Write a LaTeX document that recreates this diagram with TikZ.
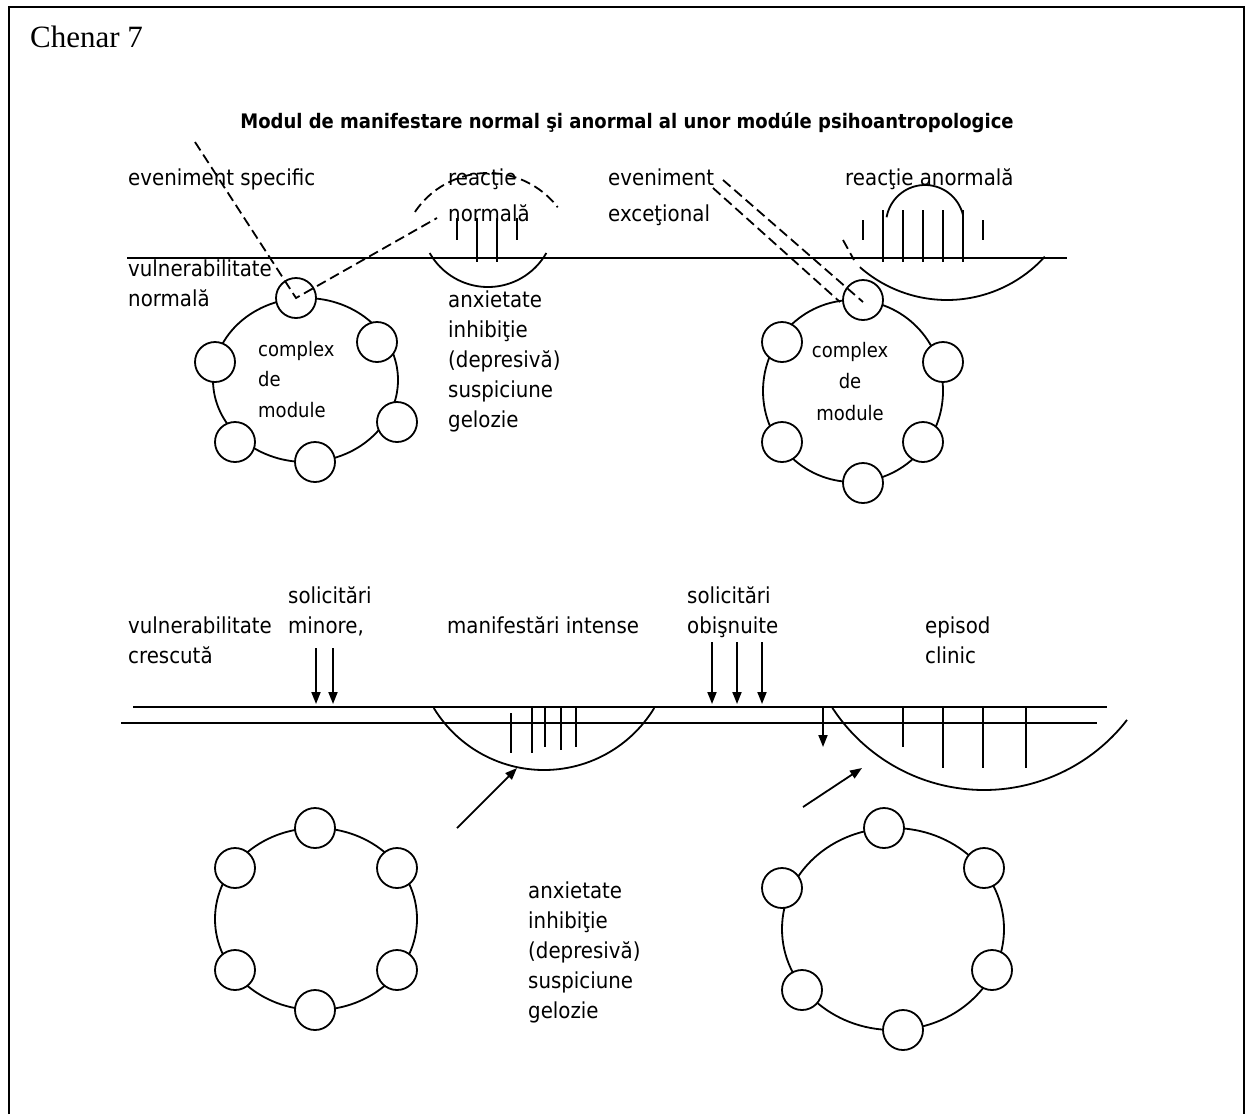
\documentclass[tikz,border=0pt]{standalone}
\usepackage{fontspec}
\setmainfont{DejaVu Sans}[FakeStretch=0.9]
\newfontfamily\boxfont{Liberation Serif}
\usetikzlibrary{arrows.meta}

\begin{document}
\begin{tikzpicture}[x=1pt,y=-1pt,
  lbl/.style={anchor=base west, inner sep=0pt, font=\fontsize{22}{26}\selectfont},
  modtxt/.style={inner sep=0pt, font=\fontsize{20}{24}\selectfont},
  ln/.style={line width=1.8pt},
  dsh/.style={line width=1.8pt, dash pattern=on 10pt off 5pt},
  arr/.style={line width=1.8pt, -{Triangle[length=12pt,width=9pt]}},
  modc/.style={circle, draw, line width=1.8pt, fill=white, minimum size=40pt, inner sep=0pt},
  ring/.style={line width=1.8pt}]

\useasboundingbox (0,0) rectangle (1246,1114);

% frame, open at the bottom
\draw[line width=2.8pt] (9,1114) -- (9,7) -- (1244,7) -- (1244,1114);
\node[anchor=base west, inner sep=0pt, font=\boxfont\fontsize{31}{36}\selectfont] (chenar) at (30,47) {Chenar 7};

% title
\node[anchor=base, inner sep=0pt, font=\bfseries\fontsize{20}{24}\selectfont] (title) at (627,128)
  {Modul de manifestare normal şi anormal al unor modúle psihoantropologice};

% ---------------- upper part ----------------
\coordinate (axA1) at (127,258);
\coordinate (axA2) at (1067,258);
\draw[ln] (axA1) -- (axA2);

% labels
\node[lbl] (evspec) at (128,185) {eveniment specific};
\node[lbl] (reac1) at (448,185) {reacţie};
\node[lbl] (norm1) at (448,221) {normală};
\node[lbl] (evexc) at (608,185) {eveniment};
\node[lbl] (exc) at (608,221) {exceţional};
\node[lbl] (reac2) at (845,185) {reacţie anormală};
\node[lbl] (vuln1) at (128,276) {vulnerabilitate};
\node[lbl] (norm2) at (128,306) {normală};
\node[lbl] (lA1) at (448,307) {anxietate};
\node[lbl] (lA2) at (448,337) {inhibiţie};
\node[lbl] (lA3) at (448,367) {(depresivă)};
\node[lbl] (lA4) at (448,397) {suspiciune};
\node[lbl] (lA5) at (448,427) {gelozie};

% normal reaction: lower solid arc, upper dashed arc, ticks
\draw[ln] plot[domain=150.5:29.5, samples=50, smooth] ({488+67*cos(\x)},{220+67*sin(\x)});
\draw[dsh] plot[domain=213.9:322.4, samples=50, smooth] ({488+88*cos(\x)},{261+88*sin(\x)});
\foreach \tx/\ty in {457/240, 477/262, 497/262, 517/240}
  \draw[ln] (\tx,218) -- (\tx,\ty);

% abnormal reaction: upper arc, ticks, lower arc
\draw[ln] plot[domain=190:346, samples=40, smooth] ({925+39*cos(\x)},{224+39*sin(\x)});
\foreach \tx/\ta/\tb in {863/220/240, 883/210/262, 903/210/262, 923/210/262, 943/210/262, 963/210/262, 983/220/240}
  \draw[ln] (\tx,\ta) -- (\tx,\tb);
\draw[ln] plot[domain=131.3:42.2, samples=60, smooth] ({947+132*cos(\x)},{168+132*sin(\x)});
\coordinate (hk1) at (843,240);
\coordinate (hk2) at (854,260);
\draw[dsh] (hk1) -- (hk2);

% left module complex (upper)
\coordinate (ra) at (305.5,380);
\coordinate (a1) at (296,298);
\coordinate (a2) at (377,342);
\coordinate (a3) at (397,422);
\coordinate (a4) at (315,462);
\coordinate (a5) at (235,442);
\coordinate (a6) at (215,362);
\draw[ring] (ra) ellipse [x radius=92.5, y radius=82];
\foreach \c in {a1,a2,a3,a4,a5,a6} \node[modc] (n\c) at (\c) {};
\node[modtxt, anchor=base west] (cxA1) at (258,356) {complex};
\node[modtxt, anchor=base west] (cxA2) at (258,386) {de};
\node[modtxt, anchor=base west] (cxA3) at (258,417) {module};

% specific event reaching the vulnerable module
\coordinate (evA) at (195,142);
\coordinate (reA) at (437,218);
\draw[dsh] (evA) -- (a1) -- (reA);

% right module complex (upper)
\coordinate (rb) at (853,391);
\coordinate (b1) at (863,300);
\coordinate (b2) at (943,362);
\coordinate (b3) at (923,442);
\coordinate (b4) at (863,483);
\coordinate (b5) at (782,442);
\coordinate (b6) at (782,342);
\draw[ring] (rb) ellipse [x radius=90, y radius=91];
\foreach \c in {b1,b2,b3,b4,b5,b6} \node[modc] (n\c) at (\c) {};
\node[modtxt, anchor=base] (cxB1) at (850,357) {complex};
\node[modtxt, anchor=base] (cxB2) at (850,388) {de};
\node[modtxt, anchor=base] (cxB3) at (850,420) {module};

% exceptional event: double dashed line
\coordinate (evB1) at (713,188);
\coordinate (evB1e) at (840,302);
\coordinate (evB2) at (723,180);
\coordinate (evB2e) at (863,302);
\draw[dsh] (evB1) -- (evB1e);
\draw[dsh] (evB2) -- (evB2e);

% ---------------- lower part ----------------
\coordinate (axB1) at (133,707);
\coordinate (axB2) at (1107,707);
\coordinate (axC1) at (121,723);
\coordinate (axC2) at (1097,723);
\draw[ln] (axB1) -- (axB2);
\draw[ln] (axC1) -- (axC2);

\node[lbl] (vuln2) at (128,633) {vulnerabilitate};
\node[lbl] (cresc) at (128,663) {crescută};
\node[lbl] (sol1) at (288,603) {solicitări};
\node[lbl] (minor) at (288,633) {minore,};
\node[lbl] (manif) at (447,633) {manifestări intense};
\node[lbl] (sol2) at (687,603) {solicitări};
\node[lbl] (obis) at (687,633) {obişnuite};
\node[lbl] (epis) at (925,633) {episod};
\node[lbl] (clin) at (925,663) {clinic};
\node[lbl] (lB1) at (528,898) {anxietate};
\node[lbl] (lB2) at (528,928) {inhibiţie};
\node[lbl] (lB3) at (528,958) {(depresivă)};
\node[lbl] (lB4) at (528,988) {suspiciune};
\node[lbl] (lB5) at (528,1018) {gelozie};

% loads arriving on the axis
\foreach \ax/\ay in {316/648, 333/648, 712/642, 737/642, 762/642}
  \draw[arr] (\ax,\ay) -- (\ax,704);
\coordinate (dp1) at (823,707);
\coordinate (dp2) at (823,747);
\draw[arr] (dp1) -- (dp2);

% intense manifestations
\draw[ln] plot[domain=148.7:31.3, samples=60, smooth] ({544+129*cos(\x)},{641+129*sin(\x)});
\foreach \tx/\ta/\tb in {511/713/753, 532/707/753, 545/707/747, 561/707/750, 576/707/747}
  \draw[ln] (\tx,\ta) -- (\tx,\tb);
\coordinate (arL1) at (457,828);
\coordinate (arL2) at (517,768);
\draw[arr] (arL1) -- (arL2);

% clinical episode
\draw[ln] plot[domain=146.9:37.8, samples=70, smooth] ({984+181*cos(\x)},{609+181*sin(\x)});
\foreach \tx/\tb in {903/747, 943/768, 983/768, 1026/768}
  \draw[ln] (\tx,707) -- (\tx,\tb);
\coordinate (arR1) at (803,807);
\coordinate (arR2) at (862,768);
\draw[arr] (arR1) -- (arR2);

% left module complex (lower)
\coordinate (rc) at (316,919);
\coordinate (c1) at (315,828);
\coordinate (c2) at (397,868);
\coordinate (c3) at (397,970);
\coordinate (c4) at (315,1010);
\coordinate (c5) at (235,970);
\coordinate (c6) at (235,868);
\draw[ring] (rc) ellipse [x radius=101, y radius=91];
\foreach \c in {c1,c2,c3,c4,c5,c6} \node[modc] (n\c) at (\c) {};

% right module complex (lower)
\coordinate (rd) at (893,929);
\coordinate (d1) at (884,828);
\coordinate (d2) at (984,868);
\coordinate (d3) at (992,970);
\coordinate (d4) at (903,1030);
\coordinate (d5) at (802,990);
\coordinate (d6) at (782,888);
\draw[ring] (rd) ellipse [x radius=111, y radius=101];
\foreach \c in {d1,d2,d3,d4,d5,d6} \node[modc] (n\c) at (\c) {};

\end{tikzpicture}
\end{document}
